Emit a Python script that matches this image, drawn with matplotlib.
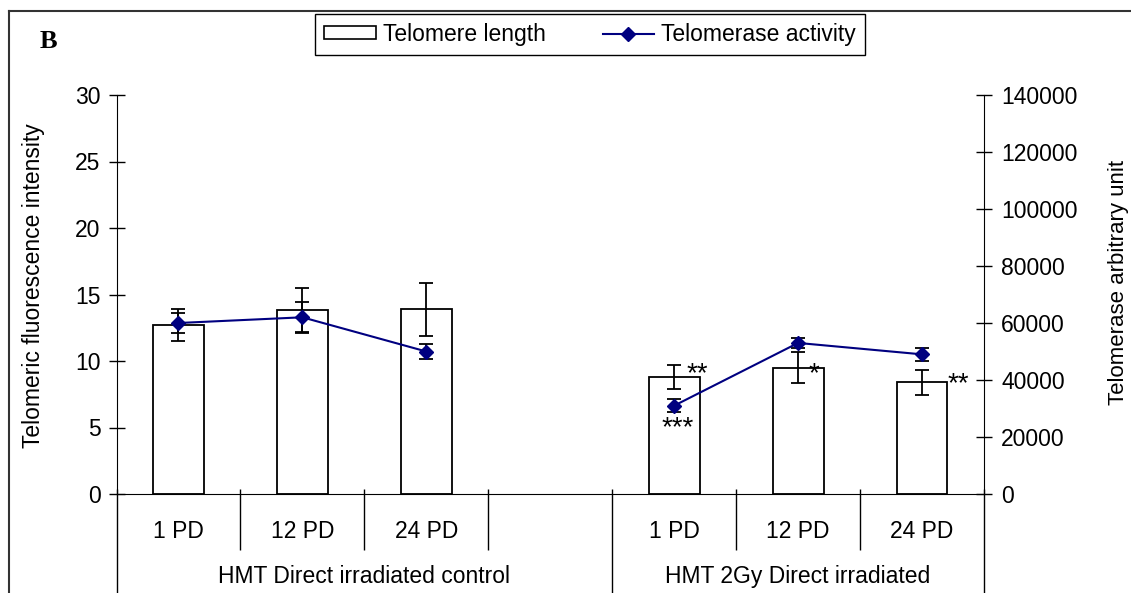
import numpy as np
import matplotlib
matplotlib.use("Agg")
import matplotlib.pyplot as plt
from matplotlib.lines import Line2D
from matplotlib.patches import Patch

plt.rcParams['font.family'] = ['Liberation Sans', 'DejaVu Sans']
plt.rcParams['font.size'] = 16.5

# categories along the x axis (blank slot separates the two groups)
categories = ['1 PD', '12 PD', '24 PD', '', '1 PD', '12 PD', '24 PD']
groups = ['HMT Direct irradiated control', 'HMT 2Gy Direct irradiated']
group_sizes = [4, 3]

# telomere length (left axis)
length = [12.7, 13.8, 13.9, np.nan, 8.8, 9.5, 8.4]
length_err = [1.2, 1.7, 2.0, np.nan, 0.93, 1.15, 0.95]

# telomerase activity (right axis)
activity = [60000, 62000, 50000, np.nan, 31000, 53000, 49000]
activity_err = [3500, 5200, 2500, np.nan, 2200, 1800, 2400]

# significance marks: (x, y on left axis, text)
sig_x = [4.19, 4.03, 5.13, 6.29]
sig_y = [8.45, 4.4, 8.45, 7.7]
sig_txt = ['**', '***', '*', '**']

W, H = 1131, 593
fig = plt.figure(figsize=(W / 100, H / 100), dpi=100)
ax = fig.add_axes([116.5 / W, 1 - 494 / H, (984 - 116.5) / W, (494 - 95) / H])

x = np.arange(len(categories))
ax.bar(x, length, width=0.41, color='white', edgecolor='black', linewidth=1.3,
       yerr=length_err, capsize=4.7,
       error_kw=dict(ecolor='black', elinewidth=1.3, capthick=1.3))
ax.set_xlim(-0.5, len(categories) - 0.5)
ax.set_ylim(0, 30)
ax.set_yticks(np.arange(0, 31, 5))
ax.set_xticks(x, categories)
ax.tick_params(axis='x', length=0, pad=19)
ax.tick_params(axis='y', direction='inout', length=11, width=1, pad=6)
for s in ['top', 'right']:
    ax.spines[s].set_visible(False)
ax.set_ylabel('Telomeric fluorescence intensity')
ax.yaxis.set_label_coords(-0.0824, 0.521)

for sx, sy, st in zip(sig_x, sig_y, sig_txt):
    ax.text(sx, sy, st, ha='center', va='baseline', fontsize=20)

# category dividers below the axis
bounds = np.arange(len(categories) + 1) - 0.5
group_edges = np.concatenate([[0], np.cumsum(group_sizes)]) - 0.5
xt = ax.get_xaxis_transform()
inner = [b for b in bounds if b not in group_edges]
ax.vlines(inner, -0.14, 0.0125, transform=xt, color='black', lw=1, clip_on=False)
ax.vlines(group_edges, -0.3, 0.0125, transform=xt, color='black', lw=1, clip_on=False)

# group labels
for g, lo, hi in zip(groups, group_edges[:-1], group_edges[1:]):
    ax.text((lo + hi) / 2, -0.208, g, transform=xt, ha='center', va='center')

ax2 = ax.twinx()
ax2.errorbar(x, activity, yerr=activity_err, color='#000080', marker='D', ms=7.5,
             lw=1.5, ecolor='black', elinewidth=1.3, capsize=4.7, capthick=1.3)
ax2.set_ylim(0, 140000)
ax2.set_yticks(np.arange(0, 140001, 20000))
ax2.tick_params(axis='y', direction='inout', length=11, width=1, pad=7)
for s in ['top', 'left', 'bottom']:
    ax2.spines[s].set_visible(False)
ax2.set_ylabel('Telomerase arbitrary unit', fontsize=16)
ax2.yaxis.set_label_coords(1.143, 0.531)

# legend
handles = [Patch(facecolor='white', edgecolor='black', linewidth=1.2),
           Line2D([], [], color='#000080', marker='D', ms=7, lw=1.5)]
leg = fig.legend(handles, ['Telomere length', 'Telomerase activity'], ncol=2,
                 loc='center', bbox_to_anchor=(590 / W, 1 - 34.5 / H),
                 fancybox=False, framealpha=1, edgecolor='black',
                 handlelength=2.25, handleheight=0.5, handletextpad=0.3,
                 columnspacing=2.5, borderpad=0.4)
leg.get_frame().set_linewidth(1)

# panel letter and outer frame
fig.text(48 / W, 1 - 42 / H, 'B', family='Liberation Serif', weight='bold',
         fontsize=19, ha='center', va='center')
fig.add_artist(Line2D([8.5 / W, 8.5 / W], [0, 1 - 10.5 / H], color='#333333', lw=1.5))
fig.add_artist(Line2D([8.5 / W, 1], [1 - 10.5 / H, 1 - 10.5 / H], color='#333333', lw=1.5))

fig.savefig('out.png', dpi=100)
